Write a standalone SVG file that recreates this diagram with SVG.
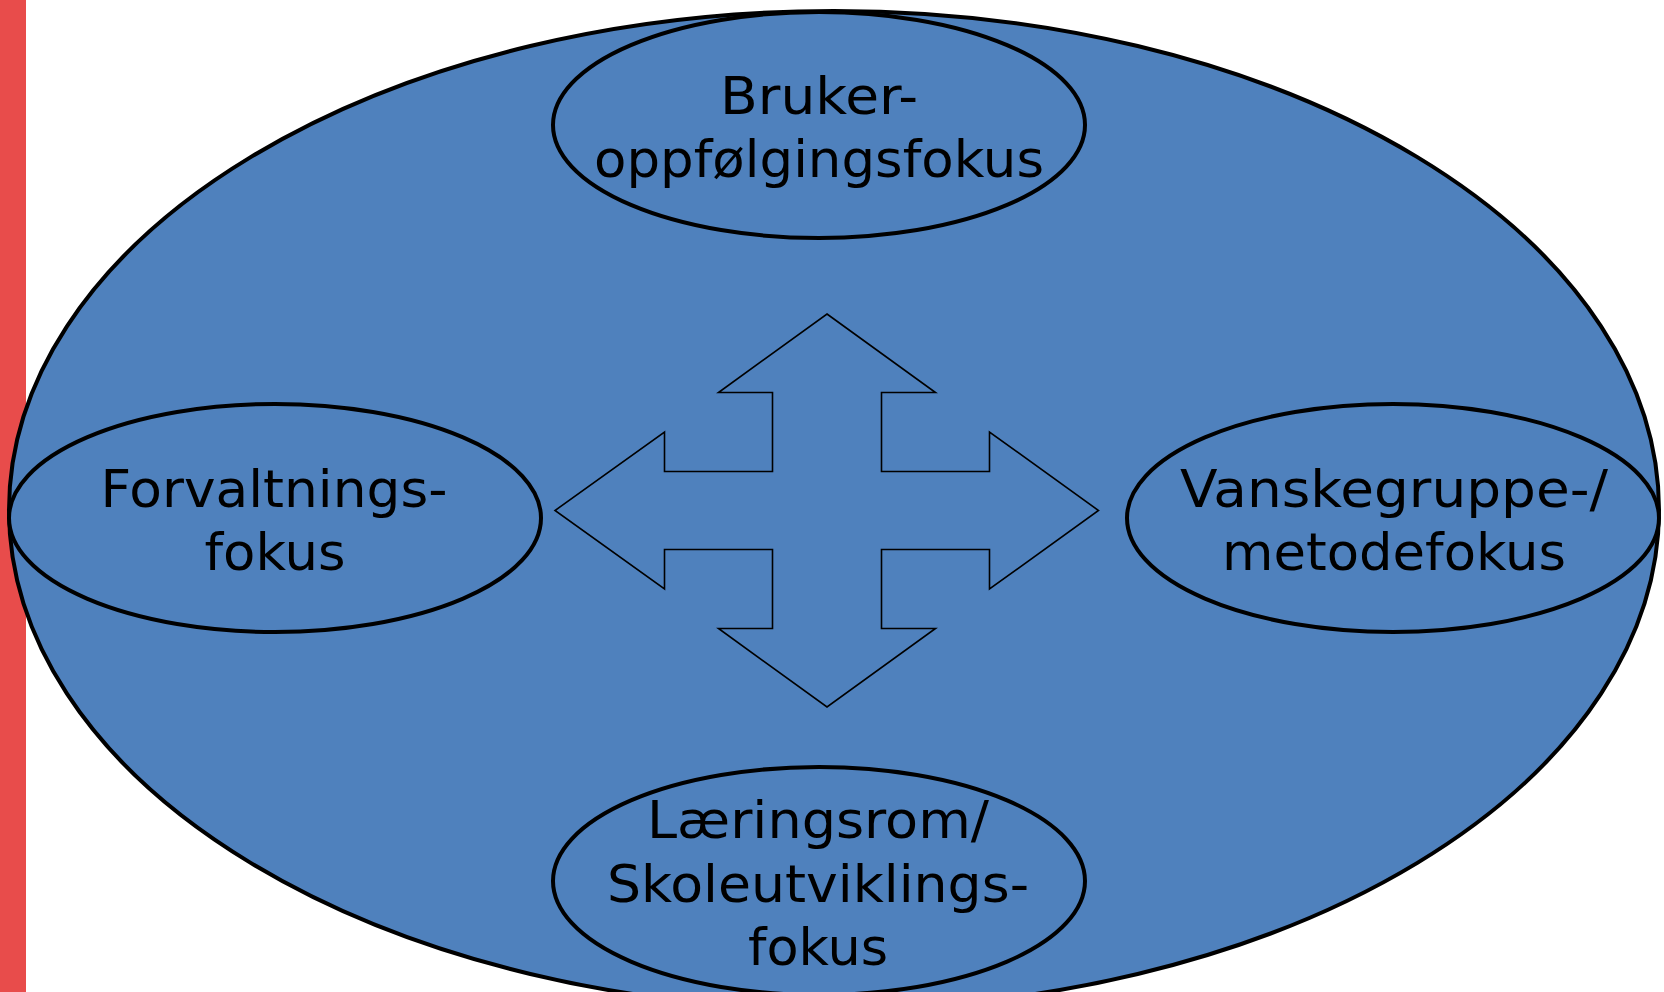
<svg xmlns="http://www.w3.org/2000/svg" width="1664" height="992" viewBox="0 0 1664 992">
<style>
.big{fill:#4F81BD;stroke:#000;stroke-width:4}
.node{fill:#4F81BD;stroke:#000;stroke-width:4}
.lbl{font-family:"DejaVu Sans","Liberation Sans",sans-serif;font-size:52px;fill:#000;text-anchor:middle}
.arrow{fill:#4F81BD;stroke:#000;stroke-width:1.6;stroke-linejoin:miter}
</style>
<rect x="0" y="0" width="1664" height="992" fill="#fff"/>
<rect x="0" y="0" width="26" height="992" fill="#E84C4B"/>
<g id="outer">
<ellipse class="big" cx="834" cy="510" rx="825" ry="499"/>
</g>
<g id="bruker">
<ellipse class="node" cx="819" cy="125" rx="266" ry="113"/>
<text class="lbl" x="819" y="114" textLength="198" lengthAdjust="spacingAndGlyphs">Bruker-</text>
<text class="lbl" x="819" y="177" textLength="450" lengthAdjust="spacingAndGlyphs">oppfølgingsfokus</text>
</g>
<g id="forvaltning">
<ellipse class="node" cx="275" cy="518" rx="266" ry="114"/>
<text class="lbl" x="274" y="507" textLength="347" lengthAdjust="spacingAndGlyphs">Forvaltnings-</text>
<text class="lbl" x="275" y="570" textLength="141" lengthAdjust="spacingAndGlyphs">fokus</text>
</g>
<g id="vanskegruppe">
<ellipse class="node" cx="1393" cy="518" rx="266" ry="114"/>
<text class="lbl" x="1394" y="507" textLength="428" lengthAdjust="spacingAndGlyphs">Vanskegruppe-/</text>
<text class="lbl" x="1394" y="570" textLength="344" lengthAdjust="spacingAndGlyphs">metodefokus</text>
</g>
<g id="laeringsrom">
<ellipse class="node" cx="819" cy="881" rx="266" ry="114"/>
<text class="lbl" x="818" y="838" textLength="342" lengthAdjust="spacingAndGlyphs">Læringsrom/</text>
<text class="lbl" x="818" y="902" textLength="422" lengthAdjust="spacingAndGlyphs">Skoleutviklings-</text>
<text class="lbl" x="818" y="965" textLength="140" lengthAdjust="spacingAndGlyphs">fokus</text>
</g>
<g id="connectors">
<polygon class="arrow" points="827,314 935.5,392.5 881.5,392.5 881.5,471.5 989.5,471.5 989.5,432 1098.5,510.5 989.5,589 989.5,549.5 881.5,549.5 881.5,628.5 935.5,628.5 827,707 718.5,628.5 772.5,628.5 772.5,549.5 664.5,549.5 664.5,589 555,510.5 664.5,432 664.5,471.5 772.5,471.5 772.5,392.5 718.5,392.5"/>
</g>
</svg>
